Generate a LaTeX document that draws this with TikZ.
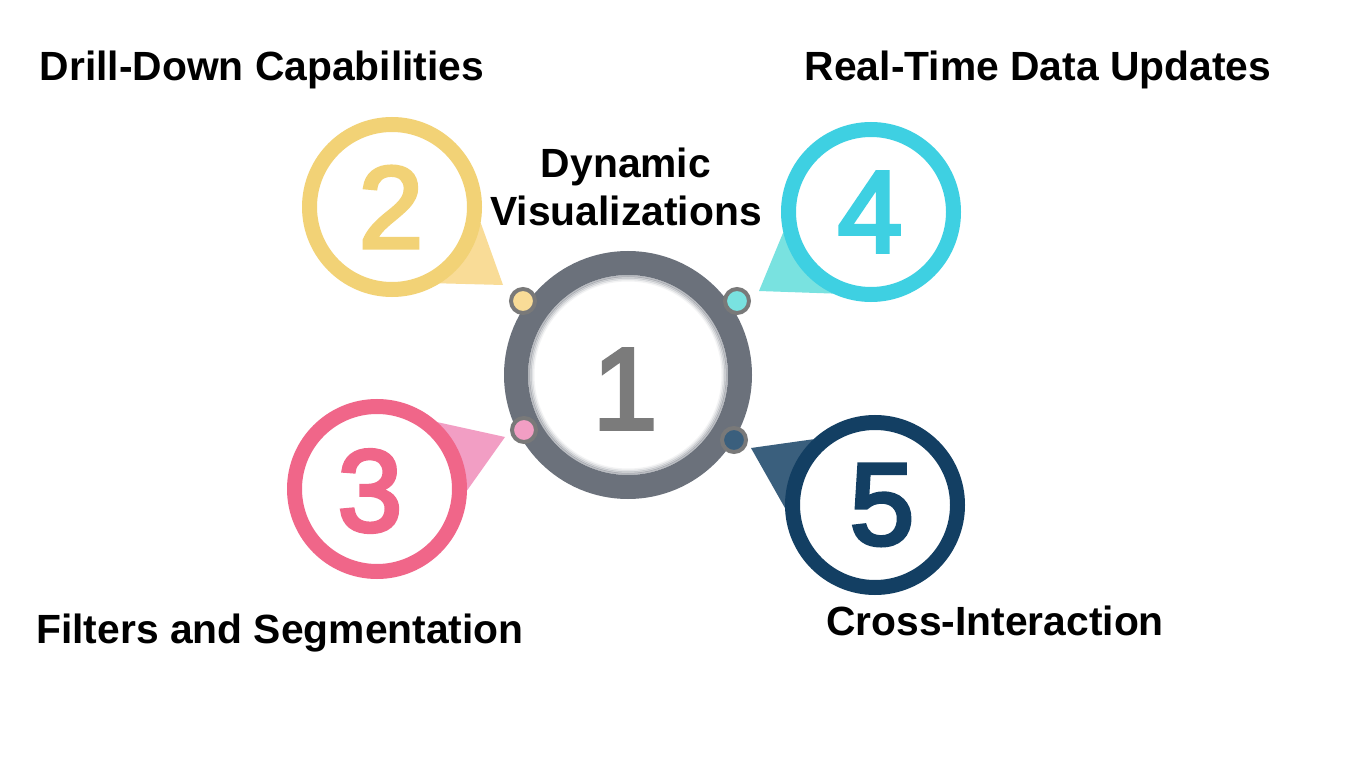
\documentclass[tikz,border=0pt]{standalone}
\usepackage{fontspec}
\setmainfont{Liberation Sans}
\newfontface\digitface{Liberation Sans}[FakeBold=3.5]
\usepackage{xcolor}
\usetikzlibrary{backgrounds}
\definecolor{hubgray}{HTML}{6B717B}
\definecolor{dotgray}{HTML}{797979}
\definecolor{onegray}{HTML}{7B7B7B}
\definecolor{yring}{HTML}{F2D276}
\definecolor{ytail}{HTML}{F9DC97}
\definecolor{cring}{HTML}{3ED0E2}
\definecolor{ctail}{HTML}{79E2E0}
\definecolor{pring}{HTML}{F06689}
\definecolor{ptail}{HTML}{F29EC4}
\definecolor{nring}{HTML}{133F63}
\definecolor{ntail}{HTML}{3A5F7D}
\def\tailp#1#2#3#4#5{\fill[#1] (#2.#3) -- (#5) -- (#2.#4) -- cycle}
\tikzstyle{ring}=[circle,fill=white,minimum size=82.5pt,line width=7.5pt,inner sep=0pt]
\tikzstyle{hub}=[circle,fill=white,draw=hubgray,minimum size=112pt,line width=12pt,inner sep=0pt]
\tikzstyle{dot}=[circle,draw=dotgray,minimum size=12pt,line width=2pt,inner sep=0pt]
\tikzstyle{digit}=[font=\fontsize{58}{60}\selectfont\digitface,inner sep=0pt]
\tikzstyle{title}=[font=\fontsize{20.4}{24}\selectfont\bfseries,inner sep=0pt]
\begin{document}
\begin{tikzpicture}[x=0.5pt,y=0.5pt]
    \useasboundingbox (0,0) rectangle (1350,-759);
    % hub
    \node[hub] (c1) at (628,-375) {};
    \foreach \r/\o in {99/.45,97.5/.3,96/.18,94.5/.08}
      \draw[hubgray,opacity=\o,line width=1pt] (c1) circle (\r);
    \node[digit,text=onegray] (n1) at (625,-389) {1};
    % satellites
    \node[ring,draw=yring] (c2) at (392,-207) {};
    \node[ring,draw=cring] (c4) at (871,-212) {};
    \node[ring,draw=pring] (c3) at (377,-489) {};
    \node[ring,draw=nring] (c5) at (875,-505) {};
    \node[digit,text=yring] (n2) at (391,-207) {2};
    \node[digit,text=cring] (n4) at (870,-212) {4};
    \node[digit,text=pring] (n3) at (370,-491) {3};
    \node[digit,text=nring] (n5) at (882,-505) {5};
    \coordinate (t2) at (503,-285);
    \coordinate (t4) at (759,-291);
    \coordinate (t3) at (505,-437);
    \coordinate (t5) at (751,-448);
    \begin{scope}[on background layer]
      \fill[white] (0,0) rectangle (1350,-759);
      \tailp{ytail}{c2}{-10}{-58}{t2};
      \tailp{ctail}{c4}{-167}{-115}{t4};
      \tailp{ptail}{c3}{48}{-1}{t3};
      \tailp{ntail}{c5}{133}{182}{t5};
    \end{scope}
    % dots on the hub
    \node[dot,fill=ytail] (d2) at (523,-301) {};
    \node[dot,fill=ctail] (d4) at (737,-301) {};
    \node[dot,fill=ptail] (d3) at (524,-430) {};
    \node[dot,fill=ntail] (d5) at (734,-440) {};
    % labels
    \node[title,anchor=base] (l2) at (262,-81) {Drill-Down Capabilities};
    \node[title,anchor=base] (l4) at (1038,-81) {Real-Time Data Updates};
    \node[title,align=center] (l1) at (626,-186.5) {Dynamic\\Visualizations};
    \node[title,anchor=base] (l3) at (280,-643) {Filters and Segmentation};
    \node[title,anchor=base] (l5) at (995,-635) {Cross-Interaction};
  \end{tikzpicture}
\end{document}
